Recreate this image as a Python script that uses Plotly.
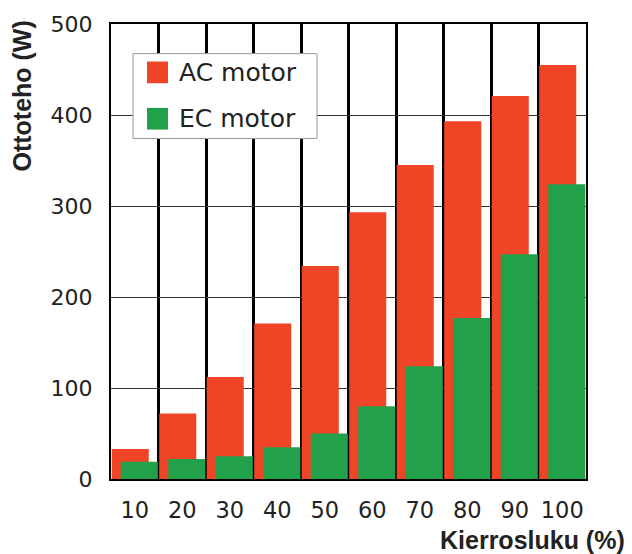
import plotly.graph_objects as go

categories = ["10", "20", "30", "40", "50", "60", "70", "80", "90", "100"]
ac_values = [33, 72, 112, 171, 234, 293, 345, 393, 421, 455]
ec_values = [19, 22, 25, 35, 50, 80, 124, 177, 247, 324]
series_names = ["AC motor", "EC motor"]
colors = ["#EF4526", "#22A14A"]
y_ticks = [0, 100, 200, 300, 400, 500]

x = list(range(len(categories)))
FONT = "DejaVu Sans, sans-serif"
BOLD = "Liberation Sans, Arial, sans-serif"

fig = go.Figure()
fig.add_trace(go.Bar(x=x, y=ac_values, name=series_names[0], marker_color=colors[0],
                     marker_line_width=0, width=0.78, offset=-0.485, showlegend=False))
fig.add_trace(go.Bar(x=x, y=ec_values, name=series_names[1], marker_color=colors[1],
                     marker_line_width=0, width=0.78, offset=-0.295, showlegend=False))

fig.update_layout(
    width=632, height=554,
    margin=dict(l=111, r=46, t=18, b=75),
    barmode="overlay",
    plot_bgcolor="white", paper_bgcolor="white",
    font=dict(family=FONT, size=21, color="#222"),
)
fig.update_xaxes(
    range=[-0.5, len(categories) - 0.5],
    tickmode="array", tickvals=x, ticktext=categories,
    showgrid=False, ticks="", ticklen=0, ticklabelstandoff=10,
    showline=True, linecolor="black", linewidth=2, mirror=True,
    minor=dict(tickmode="array", tickvals=[i + 0.5 for i in x[:-1]],
               showgrid=True, gridcolor="black", gridwidth=2.5, ticks=""),
    tickfont=dict(size=22.5, family=FONT),
    zeroline=False,
)
fig.update_yaxes(
    range=[0, 500], tickmode="array", tickvals=y_ticks,
    showgrid=True, gridcolor="#333", gridwidth=1.2,
    showline=True, linecolor="black", linewidth=2, mirror=True,
    ticks="", ticklabelstandoff=12, tickfont=dict(size=22, family=FONT),
    zeroline=False,
)

# Custom legend
fig.add_shape(type="rect", xref="paper", yref="paper",
              x0=(133 - 111) / 475, x1=(317 - 111) / 475,
              y0=(479 - 134) / 461, y1=(479 - 48) / 461,
              line=dict(color="#999", width=1), fillcolor="white", layer="above")
for i, (name, c) in enumerate(zip(series_names, colors)):
    yc = 67 + i * 47
    fig.add_shape(type="rect", xref="paper", yref="paper",
                  x0=(147 - 111) / 475, x1=(168 - 111) / 475,
                  y0=(479 - (yc + 11)) / 461, y1=(479 - (yc - 11)) / 461,
                  line_width=0, fillcolor=c, layer="above")
    fig.add_annotation(xref="paper", yref="paper", x=(177 - 111) / 475,
                       y=(479 - yc) / 461, text=name, showarrow=False,
                       xanchor="left", yanchor="middle",
                       font=dict(size=25, family=FONT, color="#222"))

fig.add_annotation(xref="paper", yref="paper", x=(627 - 111) / 475, y=(479 - 541) / 461,
                   text="<b>Kierrosluku (%)</b>", showarrow=False,
                   xanchor="right", yanchor="middle", font=dict(size=25, family=BOLD, color="#222"))
fig.add_annotation(xref="paper", yref="paper", x=(22 - 111) / 475, y=(479 - 13) / 461,
                   text="<b>Ottoteho (W)</b>", showarrow=False, textangle=-90,
                   xanchor="center", yanchor="top", font=dict(size=25, family=BOLD, color="#222"))

fig.write_html("out.html")
